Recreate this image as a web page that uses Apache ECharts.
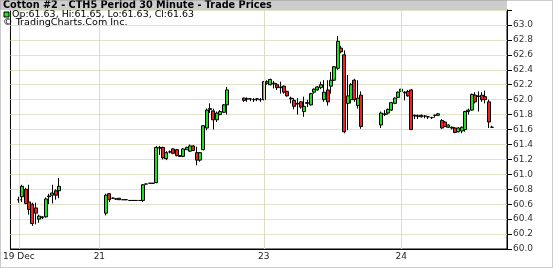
<!DOCTYPE html>
<html><head><meta charset="utf-8">
<script src="https://cdn.jsdelivr.net/npm/echarts@6/dist/echarts.min.js"></script>
<style>html,body{margin:0;padding:0;background:#fff}#c{width:553px;height:268px}</style>
</head><body><div id="c"></div>
<script>
const gap = n => new Array(n).fill(null);

const opens = [null,null,60.66,60.70,60.80,60.63,60.60,60.55,60.40,60.42,60.43,60.70,60.72,60.78,60.78,
 ...gap(13),
 60.48,60.74,60.68,60.67,60.68,60.66,60.66,60.65,60.65,60.65,60.65,60.65,60.87,60.88,60.88,60.89,61.36,61.36,61.21,61.30,61.34,61.33,61.25,61.24,61.33,61.31,61.38,61.29,61.19,61.33,61.62,61.88,61.85,61.73,61.80,61.83,61.93,
 ...gap(4),
 62.02,62.01,62.01,62.00,62.01,62.00,62.00,62.22,62.20,62.22,62.20,62.17,62.18,62.11,62.02,61.99,61.95,61.97,61.84,61.96,61.93,62.10,62.13,62.16,62.00,62.13,62.18,62.26,62.42,62.69,62.60,61.95,62.00,62.26,61.92,62.06,
 ...gap(5),
 61.66,61.80,61.82,61.86,61.95,62.03,62.11,62.10,62.11,62.13,61.79,61.78,61.79,61.78,61.77,61.76,61.79,61.79,61.72,61.70,61.63,61.62,61.62,61.57,61.58,61.60,61.84,61.86,62.06,62.05,62.06,62.04,61.97,61.63,
 ...gap(4)];

const closes = [null,null,60.66,60.84,60.61,60.53,60.34,60.48,60.44,60.43,60.67,60.71,60.75,60.72,60.84,
 ...gap(13),
 60.72,60.66,60.68,60.67,60.66,60.66,60.66,60.65,60.65,60.65,60.65,60.86,60.87,60.88,60.88,61.36,61.35,61.22,61.29,61.30,61.28,61.25,61.24,61.34,61.36,61.38,61.32,61.19,61.29,61.65,61.86,61.87,61.73,61.82,61.84,61.93,62.13,
 ...gap(4),
 61.99,62.01,62.01,62.00,62.01,62.00,62.24,62.24,62.27,62.21,62.16,62.16,62.10,62.05,62.01,61.91,61.94,61.90,61.91,61.95,62.08,62.14,62.17,62.20,62.10,61.97,62.26,62.44,62.78,62.64,61.57,62.05,62.20,62.00,62.02,61.64,
 ...gap(5),
 61.82,61.81,61.87,61.96,62.02,62.10,62.14,62.09,62.05,61.60,61.78,61.78,61.77,61.78,61.77,61.76,61.79,61.81,61.62,61.64,61.66,61.63,61.56,61.62,61.63,61.84,61.86,62.07,61.97,62.04,62.00,62.00,61.70,61.63,
 ...gap(4)];

const lows = [null,null,60.62,60.63,60.60,60.46,60.31,60.33,60.35,60.40,60.42,60.60,60.61,60.66,60.68,
 ...gap(13),
 60.45,60.63,60.67,60.66,60.66,60.66,60.66,60.65,60.65,60.65,60.65,60.63,60.87,60.88,60.88,60.88,61.26,61.20,61.19,61.28,61.27,61.24,61.24,61.23,61.33,61.30,61.31,61.12,61.17,61.32,61.59,61.82,61.60,61.70,61.79,61.82,61.80,
 ...gap(4),
 61.97,61.97,61.98,61.97,61.98,61.97,61.99,62.20,62.19,62.15,62.13,62.08,62.08,62.04,61.95,61.87,61.80,61.88,61.77,61.90,61.92,62.08,62.12,62.14,61.97,61.92,62.08,62.25,62.40,62.62,61.55,61.59,61.95,61.97,61.88,61.61,
 ...gap(5),
 61.62,61.78,61.80,61.85,61.94,62.02,62.10,61.99,62.04,61.59,61.74,61.74,61.76,61.75,61.74,61.74,61.76,61.78,61.61,61.63,61.62,61.60,61.55,61.56,61.55,61.57,61.80,61.85,61.95,61.84,61.97,61.95,61.62,61.63,
 ...gap(4)];

const highs = [null,null,60.70,60.86,60.82,60.86,60.62,60.62,60.46,60.44,60.69,60.74,60.86,60.80,60.95,
 ...gap(13),
 60.74,60.75,60.69,60.68,60.68,60.66,60.66,60.65,60.65,60.65,60.65,60.87,60.87,60.88,60.88,61.38,61.38,61.37,61.31,61.32,61.35,61.34,61.26,61.35,61.37,61.40,61.39,61.37,61.30,61.66,61.88,61.95,61.88,61.84,61.86,61.94,62.17,
 ...gap(4),
 62.03,62.03,62.02,62.02,62.02,62.02,62.25,62.26,62.28,62.25,62.22,62.24,62.19,62.12,62.04,62.02,62.02,61.98,62.04,62.00,62.09,62.15,62.18,62.24,62.26,62.26,62.37,62.45,62.85,62.72,62.66,62.33,62.22,62.28,62.26,62.11,
 ...gap(5),
 61.84,61.86,61.88,61.97,62.03,62.11,62.15,62.11,62.13,62.14,61.80,61.80,61.80,61.79,61.78,61.77,61.80,61.82,61.74,61.71,61.67,61.64,61.63,61.63,61.64,61.85,61.88,62.08,62.10,62.11,62.10,62.12,62.00,61.65,
 ...gap(4)];

const categories = opens.map((_, i) => String(i));
const tickIndex = [2, 26, 75, 116];
const tickText = ['19 Dec', '21', '23', '24'];
const titleText = 'Cotton #2 - CTH5 Period 30 Minute - Trade Prices';
const lastBarText = 'Op:61.63, Hi:61.65, Lo:61.63, Cl:61.63';
const sourceText = '\u00A9 TradingCharts.Com Inc.';

const candles = opens.map((o, i) => o == null ? ['-', '-', '-', '-'] : [o, closes[i], lows[i], highs[i]]);

const chart = echarts.init(document.getElementById('c'), null, {renderer: 'canvas'});
chart.setOption({
  animation: false,
  grid: {left: 5, right: 46, top: 10, bottom: 19, show: true, borderColor: '#000', borderWidth: 1, backgroundColor: '#fff'},
  xAxis: {
    type: 'category', data: categories, boundaryGap: true,
    axisLine: {show: true, lineStyle: {color: '#000'}},
    axisTick: {show: false},
    splitLine: {show: false},
    axisLabel: {
      interval: (i) => tickIndex.includes(i),
      formatter: (v, i) => { const k = tickIndex.indexOf(i); return k >= 0 ? tickText[k] : ''; },
      fontSize: 9, color: '#222', margin: 3, fontFamily: 'DejaVu Sans'
    }
  },
  yAxis: {
    type: 'value', position: 'right', min: 60, max: 63.2, interval: 0.2,
    axisLine: {show: true, lineStyle: {color: '#000'}},
    axisTick: {show: true, length: 5, lineStyle: {color: '#000'}},
    axisLabel: {formatter: v => v > 63.05 ? '' : v.toFixed(1), fontSize: 9, color: '#333', margin: 6, fontFamily: 'DejaVu Sans'},
    splitLine: {show: true, lineStyle: {color: '#e2e2c8'}}
  },
  series: [
    {type: 'line', data: [], z: 1, silent: true,
     markLine: {silent: true, symbol: 'none', label: {show: false}, animation: false,
       lineStyle: {color: '#deddc4', type: 'solid', width: 1},
       data: tickIndex.map(i => ({xAxis: categories[i]}))}},
    {type: 'candlestick', z: 3, data: candles, barWidth: 3.5,
     itemStyle: {color: '#22dd22', color0: '#ee2222', borderColor: '#000', borderColor0: '#000', borderWidth: 1}}
  ],
  graphic: [
    {type: 'rect', shape: {x: 0, y: 0, width: 507, height: 10}, style: {fill: '#cdcdcd'}, z: 10},
    {type: 'text', x: 3, y: 0.5, z: 11, style: {text: titleText, font: 'bold 9.7px "DejaVu Sans"', fill: '#000', verticalAlign: 'top'}},
    {type: 'rect', shape: {x: 4, y: 12, width: 5, height: 5}, style: {fill: '#22dd22', stroke: '#000', lineWidth: 1}, z: 11},
    {type: 'text', x: 12, y: 11, scaleX: 1.18, z: 11, style: {text: lastBarText, font: '8px "DejaVu Sans"', fill: '#000', verticalAlign: 'top'}},
    {type: 'text', x: 3, y: 19, scaleX: 1.2, z: 11, style: {text: sourceText, font: '8px "DejaVu Sans"', fill: '#000', verticalAlign: 'top'}},
    {type: 'rect', shape: {x: 0.5, y: 0.5, width: 552, height: 267}, style: {fill: 'none', stroke: '#999', lineWidth: 1, lineDash: [1, 1]}, z: 12}
  ]
});
</script>
</body></html>
